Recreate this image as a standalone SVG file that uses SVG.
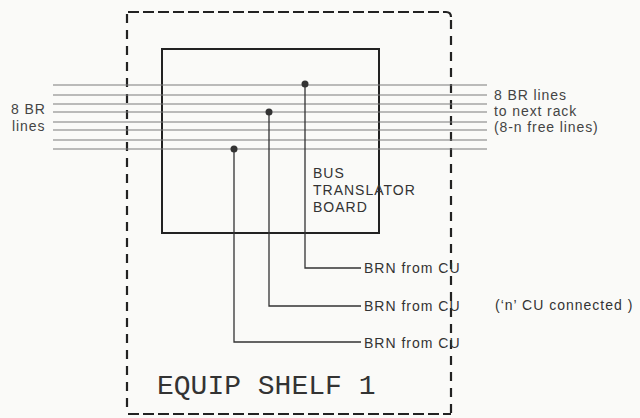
<svg xmlns="http://www.w3.org/2000/svg" width="640" height="418" viewBox="0 0 640 418">
<style>
.bus{stroke:#7a7a7a;stroke-width:1.2;fill:none}
.wire{stroke:#333;stroke-width:1.3;fill:none}
.box{stroke:#222;stroke-width:2;fill:none}
.dashh{stroke:#222;stroke-width:2.2;fill:none;stroke-dasharray:11 4}
.dashv{stroke:#222;stroke-width:2.2;fill:none;stroke-dasharray:9 7}
.t{font-family:"Liberation Sans",Arial,sans-serif;font-size:14px;fill:#444;letter-spacing:0.9px}
.tb{font-family:"Liberation Sans",Arial,sans-serif;font-size:14px;fill:#333;letter-spacing:1px}
.shelf{font-family:"Liberation Mono","Courier New",monospace;font-size:28px;fill:#333}
.dot{fill:#333}
</style>
<rect width="640" height="418" fill="#fafaf8"/>
<g id="shelf">
<path class="dashh" d="M128,12 H446 Q451,12 451,17"/>
<line class="dashv" x1="127" y1="14" x2="127" y2="413"/>
<line class="dashv" x1="451" y1="20" x2="451" y2="413"/>
<line class="dashh" x1="128" y1="414" x2="451" y2="414"/>
<text class="shelf" x="157" y="394">EQUIP SHELF 1</text>
</g>
<g id="board">
<rect class="box" x="162" y="49" width="217" height="184"/>
<text class="tb" x="313" y="178">BUS</text>
<text class="tb" x="313" y="195">TRANSLATOR</text>
<text class="tb" x="313" y="212">BOARD</text>
</g>
<g id="bus-lines">
<line class="bus" x1="53" y1="85" x2="487" y2="85"/>
<line class="bus" x1="53" y1="95" x2="487" y2="95"/>
<line class="bus" x1="53" y1="104" x2="487" y2="104"/>
<line class="bus" x1="53" y1="112" x2="487" y2="112"/>
<line class="bus" x1="53" y1="122" x2="487" y2="122"/>
<line class="bus" x1="53" y1="130" x2="487" y2="130"/>
<line class="bus" x1="53" y1="140" x2="487" y2="140"/>
<line class="bus" x1="53" y1="149" x2="487" y2="149"/>
<text class="t" x="11" y="114">8 BR</text>
<text class="t" x="12" y="131">lines</text>
<text class="t" x="494" y="100">8 BR lines</text>
<text class="t" x="494" y="116">to next rack</text>
<text class="t" x="494" y="132">(8-n free lines)</text>
</g>
<g id="connectors">
<path class="wire" d="M305,84 V268 H361"/>
<path class="wire" d="M269,112 V306 H361"/>
<path class="wire" d="M234,149 V342 H361"/>
<circle class="dot" cx="305" cy="84" r="3.5"/>
<circle class="dot" cx="269" cy="112" r="3.5"/>
<circle class="dot" cx="234" cy="149" r="3.5"/>
</g>
<g id="cu1"><text class="tb" x="364" y="273">BRN from CU</text></g>
<g id="cu2"><text class="tb" x="364" y="311">BRN from CU</text></g>
<g id="cu3"><text class="tb" x="364" y="348">BRN from CU</text></g>
<g id="note"><text class="tb" x="495" y="310">(‘n’ CU connected )</text></g>
</svg>
